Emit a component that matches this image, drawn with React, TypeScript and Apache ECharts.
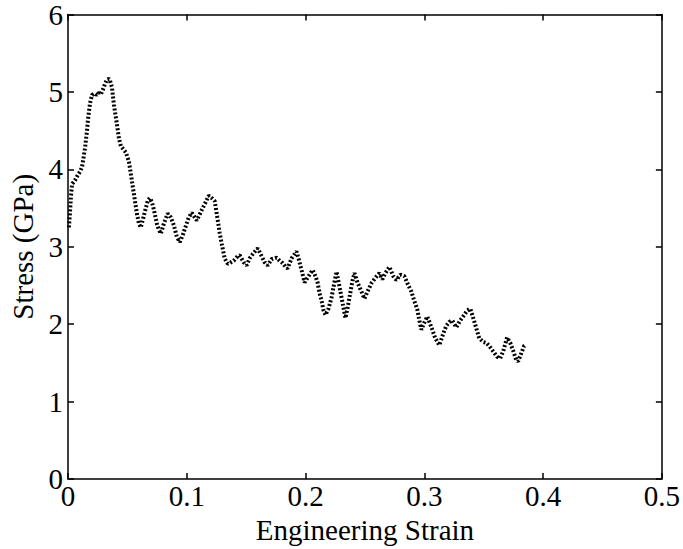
import React, { useEffect, useRef } from "react";
import * as echarts from "echarts";

const strain = [
  0.0008, 0.0017, 0.0025, 0.0034, 0.0059, 0.0076, 0.0101, 0.0118, 0.0143, 0.016,
  0.0168, 0.0185, 0.0202, 0.0227, 0.0244, 0.0261, 0.0277, 0.0294, 0.0311, 0.0328,
  0.0345, 0.0353, 0.037, 0.0387, 0.0412, 0.0429, 0.0445, 0.0471, 0.0487, 0.0513,
  0.0529, 0.0555, 0.058, 0.0597, 0.0613, 0.063, 0.0655, 0.0672, 0.0689, 0.0706,
  0.0723, 0.0748, 0.0765, 0.0782, 0.0807, 0.084, 0.0866, 0.0891, 0.0916, 0.0941,
  0.0966, 0.0983, 0.1017, 0.1042, 0.1067, 0.1084, 0.1109, 0.1134, 0.116, 0.1185,
  0.121, 0.1235, 0.1261, 0.1277, 0.1294, 0.1319, 0.1345, 0.1361, 0.1395, 0.1429,
  0.1445, 0.1479, 0.1504, 0.1529, 0.1563, 0.1597, 0.163, 0.1655, 0.1681, 0.1714,
  0.1756, 0.1782, 0.1807, 0.1832, 0.1849, 0.1882, 0.1924, 0.1941, 0.1966, 0.1992,
  0.2025, 0.2059, 0.2084, 0.2101, 0.2118, 0.2134, 0.2151, 0.2168, 0.2193, 0.2218,
  0.2244, 0.2261, 0.2286, 0.2311, 0.2336, 0.2353, 0.237, 0.2395, 0.2412, 0.2437,
  0.2471, 0.2496, 0.2521, 0.2555, 0.2588, 0.2622, 0.2647, 0.2672, 0.2706, 0.2739,
  0.2765, 0.2798, 0.2832, 0.2857, 0.2891, 0.2916, 0.2941, 0.2958, 0.2975, 0.3,
  0.3025, 0.305, 0.3067, 0.3092, 0.3126, 0.316, 0.3185, 0.321, 0.3235, 0.3269,
  0.3303, 0.3336, 0.3361, 0.3387, 0.3412, 0.3437, 0.3462, 0.3496, 0.3521, 0.3546,
  0.358, 0.3613, 0.3639, 0.3664, 0.3697, 0.3723, 0.3748, 0.3773, 0.379, 0.3815,
  0.384, 0.3857,
];

const stress = [
  3.25, 3.45, 3.65, 3.81, 3.86, 3.91, 3.97, 4.03, 4.27, 4.5,
  4.64, 4.85, 4.96, 4.98, 4.96, 4.99, 4.97, 5.03, 5.1, 5.16,
  5.17, 5.15, 5.06, 4.83, 4.58, 4.4, 4.3, 4.25, 4.22, 4.1,
  3.94, 3.68, 3.43, 3.3, 3.25, 3.35, 3.5, 3.6, 3.63, 3.58,
  3.48, 3.3, 3.22, 3.17, 3.3, 3.43, 3.38, 3.28, 3.13, 3.06,
  3.15, 3.23, 3.38, 3.44, 3.38, 3.34, 3.42, 3.5, 3.58, 3.66,
  3.63, 3.59, 3.34, 3.18, 3.04, 2.85, 2.78, 2.79, 2.82, 2.88,
  2.89, 2.8, 2.76, 2.85, 2.92, 2.98, 2.88, 2.8, 2.76, 2.84,
  2.86, 2.82, 2.79, 2.74, 2.72, 2.85, 2.94, 2.85, 2.7, 2.54,
  2.62, 2.7, 2.62, 2.54, 2.4, 2.31, 2.18, 2.12, 2.2, 2.34,
  2.55, 2.68, 2.48, 2.28, 2.08, 2.2, 2.35, 2.56, 2.66, 2.54,
  2.42, 2.33, 2.42, 2.53, 2.6, 2.66, 2.58, 2.66, 2.74, 2.62,
  2.57, 2.64, 2.62, 2.53, 2.42, 2.3, 2.19, 2.05, 1.93, 2.02,
  2.1, 2.0, 1.93, 1.82, 1.73, 1.88, 1.98, 2.03, 2.05, 1.96,
  2.05, 2.12, 2.18, 2.2, 2.08, 1.95, 1.82, 1.77, 1.76, 1.72,
  1.65, 1.58, 1.56, 1.65, 1.83, 1.76, 1.66, 1.54, 1.52, 1.62,
  1.72, 1.74,
];

const xTicks = ["0", "0.1", "0.2", "0.3", "0.4", "0.5"];
const yTicks = ["0", "1", "2", "3", "4", "5", "6"];

const FONT = "Liberation Serif";
const FS = 29;

export default function App() {
  const ref = useRef<HTMLDivElement>(null);
  useEffect(() => {
    if (!ref.current) return;
    const chart = echarts.init(ref.current, undefined, { renderer: "svg" });
    const data = strain.map((s, i) => [s, stress[i]]);
    const axisLine = { show: true, onZero: false, lineStyle: { color: "#000", width: 1.5 } };
    const tickIn = { show: true, inside: true, length: 6, lineStyle: { color: "#000", width: 1.5 } };
    chart.setOption({
      animation: false,
      backgroundColor: "#fff",
      grid: { left: 68, right: 20, top: 12, bottom: 68, containLabel: false },
      xAxis: [
        {
          type: "value",
          min: 0,
          max: 0.5,
          interval: 0.1,
          position: "bottom",
          name: "Engineering Strain",
          nameLocation: "middle",
          nameGap: 32,
          nameTextStyle: { fontFamily: FONT, fontSize: FS, color: "#000" },
          axisLine,
          axisTick: tickIn,
          splitLine: { show: false },
          axisLabel: {
            fontFamily: FONT,
            fontSize: FS,
            color: "#000",
            margin: 2,
            formatter: (v: number) => xTicks[Math.round(v * 10)] ?? "",
          },
        },
        {
          type: "value",
          min: 0,
          max: 0.5,
          interval: 0.1,
          position: "top",
          axisLine,
          axisTick: tickIn,
          axisLabel: { show: false },
          splitLine: { show: false },
        },
      ],
      yAxis: [
        {
          type: "value",
          min: 0,
          max: 6,
          interval: 1,
          position: "left",
          name: "Stress (GPa)",
          nameLocation: "middle",
          nameGap: 28,
          nameRotate: 90,
          nameTextStyle: { fontFamily: FONT, fontSize: FS, color: "#000" },
          axisLine,
          axisTick: tickIn,
          splitLine: { show: false },
          axisLabel: {
            fontFamily: FONT,
            fontSize: FS,
            color: "#000",
            margin: 5,
            formatter: (v: number) => yTicks[Math.round(v)] ?? "",
          },
        },
        {
          type: "value",
          min: 0,
          max: 6,
          interval: 1,
          position: "right",
          axisLine,
          axisTick: tickIn,
          axisLabel: { show: false },
          splitLine: { show: false },
        },
      ],
      series: [
        {
          type: "line",
          data,
          showSymbol: false,
          smooth: false,
          lineStyle: { color: "#000", width: 4, type: [2, 2], cap: "butt" },
        },
      ],
    });
    return () => chart.dispose();
  }, []);
  return (
    <div
      ref={ref}
      style={{ position: "fixed", left: 0, top: 0, width: 683, height: 549 }}
    />
  );
}
